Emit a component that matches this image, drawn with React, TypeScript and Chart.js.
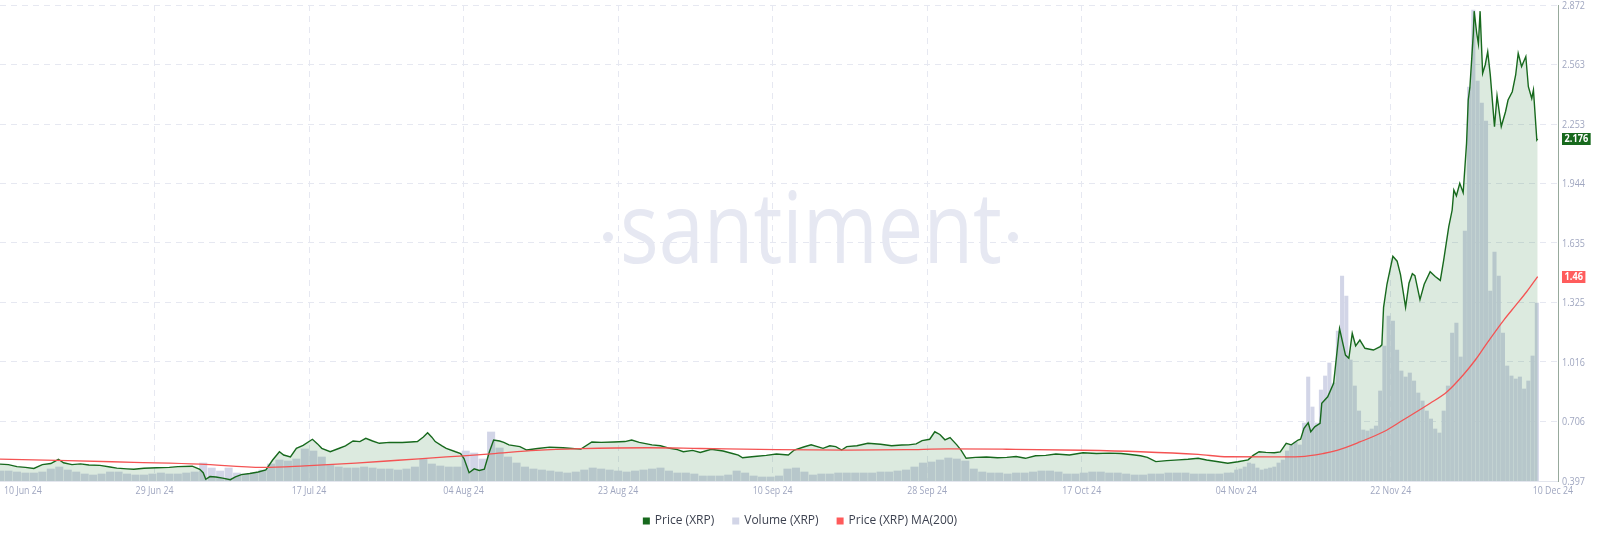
import React, { useEffect, useRef } from 'react';
import { Chart, registerables } from 'chart.js';

Chart.register(...registerables);

// x values are days since 10 Jun 2024 00:00
const xTickDays = [0, 18.25, 36.5, 54.75, 73, 91.25, 109.5, 127.75, 146, 164.25, 182.5];
const xTickLabels = ['10 Jun 24', '29 Jun 24', '17 Jul 24', '04 Aug 24', '23 Aug 24', '10 Sep 24', '28 Sep 24', '17 Oct 24', '04 Nov 24', '22 Nov 24', '10 Dec 24'];
const yTicks = [0.397, 0.706, 1.016, 1.325, 1.635, 1.944, 2.253, 2.563, 2.872];

const priceDays = [
  0, 1, 2, 3, 4, 5, 6, 6.9, 7.5, 8.5, 9.5, 10.5, 11.8, 13, 13.8, 15, 15.8, 17, 18.5, 20, 21, 22.7, 23.6, 24, 24.3, 24.8,
  25.5, 26.3, 27.2, 27.8, 28.5, 29.5, 30.5, 31.4, 32.2, 33, 33.5, 34.3, 35, 35.8, 36.9, 37.5, 38, 39, 40, 40.8, 41.7,
  42.5, 43.2, 44, 44.8, 46, 47.5, 48.5, 49.3, 50, 50.5, 51, 51.4, 52.2, 52.7, 53.8, 54.4, 54.8, 55.4, 56, 56.6, 57.2,
  57.8, 58.3, 59, 59.5, 60.1, 61.4, 62.2, 63.5, 64.9, 66.5, 68.6, 69.9, 71, 72.5, 73.8, 74.6, 75.5, 77, 78, 79.1, 80,
  80.7, 81.8, 82.7, 84, 85.4, 86.5, 87.2, 87.7, 88.5, 89.4, 90.5, 91.7, 93.1, 93.8, 95, 95.8, 97.2, 98, 98.7, 99.4,
  100, 101.2, 102.5, 104, 105.3, 106.5, 107.3, 108.2, 108.9, 109.8, 110.4, 111, 111.6, 112.2, 113, 113.5, 114.1,
  115.2, 116.5, 117.8, 118.9, 120, 121.1, 122.3, 123.5, 124.7, 126.3, 127.9, 129.5, 131, 132.4, 133.5, 134.7, 135.5,
  136.5, 137.8, 139.2, 140.3, 141.5, 142.5, 143.5, 145, 146.2, 147.4, 148, 148.7, 149.5, 150.5, 151.2, 151.9, 152.5,
  153.3, 153.6, 154, 154.5, 154.8, 155.3, 155.9, 156.1, 156.8, 157.5, 158.2, 158.9, 159.3, 159.7, 160.1, 160.6, 161.2,
  162.2, 163, 163.2, 163.4, 163.8, 164.5, 165, 165.4, 166, 166.4, 166.8, 167.1, 167.7, 168.2, 168.9, 169.5, 170.1,
  170.5, 171.1, 171.5, 171.7, 172, 172.4, 172.8, 173.2, 173.4, 173.6, 174, 174.1, 174.4, 174.6, 174.8, 175.1, 175.4,
  175.7, 176, 176.5, 176.8, 177.3, 177.8, 178.1, 178.6, 179, 179.3, 179.7, 180.2, 180.5, 180.9, 181.1, 181.5, 181.6,
];
const priceValues = [
  0.485, 0.482, 0.472, 0.468, 0.462, 0.482, 0.488, 0.51, 0.492, 0.482, 0.486, 0.48, 0.478, 0.47, 0.464, 0.46, 0.458, 0.463, 0.466, 0.468, 0.472, 0.474, 0.458, 0.44, 0.406, 0.42,
  0.418, 0.412, 0.404, 0.418, 0.43, 0.436, 0.444, 0.455, 0.506, 0.549, 0.532, 0.522, 0.567, 0.582, 0.614, 0.59, 0.567, 0.549, 0.566, 0.58, 0.605,
  0.602, 0.619, 0.605, 0.593, 0.598, 0.597, 0.6, 0.602, 0.626, 0.648, 0.625, 0.602, 0.58, 0.567, 0.549, 0.54, 0.514, 0.44, 0.46, 0.452, 0.458,
  0.549, 0.61, 0.605, 0.598, 0.585, 0.576, 0.558, 0.566, 0.573, 0.57, 0.563, 0.6, 0.598, 0.6, 0.602, 0.61, 0.598, 0.585, 0.58, 0.567, 0.56,
  0.549, 0.556, 0.545, 0.562, 0.553, 0.54, 0.532, 0.518, 0.522, 0.526, 0.53, 0.537, 0.532, 0.558, 0.575, 0.585, 0.567, 0.58, 0.576, 0.558,
  0.576, 0.58, 0.593, 0.588, 0.58, 0.584, 0.585, 0.59, 0.607, 0.614, 0.653, 0.639, 0.611, 0.623, 0.585, 0.558, 0.515,
  0.52, 0.522, 0.518, 0.52, 0.524, 0.515, 0.528, 0.53, 0.537, 0.532, 0.544, 0.54, 0.542, 0.54, 0.535, 0.528, 0.52,
  0.498, 0.503, 0.507, 0.51, 0.515, 0.506, 0.5, 0.489, 0.497, 0.507, 0.53, 0.549, 0.546, 0.544, 0.548, 0.593, 0.585,
  0.61, 0.614, 0.671, 0.7, 0.653, 0.68, 0.697, 0.801, 0.835, 0.905, 1.19, 1.052, 1.035, 1.165, 1.1, 1.13, 1.087,
  1.078, 1.096, 1.105, 1.3, 1.42, 1.565, 1.54, 1.47, 1.3, 1.425, 1.475, 1.465, 1.34, 1.42, 1.485, 1.46, 1.44,
  1.546, 1.72, 1.806, 1.91, 1.88, 1.945, 1.896, 2.153, 2.378, 2.447, 2.725, 2.84, 2.725, 2.67, 2.84, 2.517, 2.56,
  2.629, 2.51, 2.239, 2.4, 2.24, 2.317, 2.378, 2.421, 2.508, 2.621, 2.552, 2.604, 2.447, 2.386, 2.43, 2.17, 2.176,
];

const maDays = [0, 8, 15.8, 23.6, 31, 36, 42, 47, 52.7, 58, 63.3, 68.6, 76.5, 82.7, 91.7, 100, 107, 112, 118.9, 127.9, 134.7, 141.5, 145, 150, 153.6, 156.3, 157.9, 160.6, 163.4, 165.7, 168.9, 170.9, 172.8, 174.3, 175.6, 177.6, 179, 180.3, 181.6];
const maValues = [0.511, 0.503, 0.494, 0.485, 0.468, 0.476, 0.49, 0.505, 0.522, 0.538, 0.556, 0.565, 0.57, 0.566, 0.56, 0.558, 0.56, 0.564, 0.562, 0.557, 0.549, 0.535, 0.523, 0.522, 0.524, 0.54, 0.556, 0.6, 0.653, 0.714, 0.801, 0.861, 0.948, 1.03, 1.113, 1.234, 1.31, 1.381, 1.46];

// Volume (XRP), arbitrary units: daily bars 10 Jun .. 3 Nov, then half-day bars
const volumeDailyStart = 0;
const volumeDaily = [
  100, 100, 90, 80, 80, 90, 120, 140, 110, 90, 70, 60, 70, 90, 90, 70, 60, 60, 70, 80,
  70, 70, 80, 90, 180, 130, 100, 130, 80, 70, 80, 110, 170, 210, 200, 220, 320, 300, 240, 160,
  140, 130, 130, 140, 130, 120, 120, 110, 120, 140, 220, 170, 150, 140, 140, 300, 280, 220, 490, 330,
  240, 180, 140, 120, 110, 100, 90, 80, 90, 110, 130, 120, 110, 100, 90, 100, 110, 120, 130, 100,
  80, 80, 70, 50, 50, 50, 60, 100, 80, 50, 40, 40, 50, 120, 130, 90, 60, 70, 70, 80,
  80, 80, 80, 80, 90, 90, 100, 110, 140, 180, 190, 210, 230, 220, 200, 120, 90, 80, 80, 70,
  80, 80, 90, 100, 100, 90, 70, 70, 80, 90, 90, 80, 80, 70, 60, 60, 70, 70, 80, 80,
  80, 70, 70, 70, 70, 80,
];
const volumeHalfDayStart = 145.5;
const volumeHalfDay = [
  80, 110, 120, 140, 180, 170, 130, 110, 120, 130, 140, 180, 210, 300, 360, 390, 360, 580, 1040, 740,
  580, 910, 1050, 1180, 980, 1500, 2050, 1850, 1210, 950, 700, 510, 500, 520, 550, 900, 1350, 1650, 1600, 1310,
  1100, 1040, 1080, 1000, 880, 800, 700, 620, 520, 480, 700, 950, 1480, 1580, 1240, 2500, 3940, 4710, 4000, 3780,
  3600, 1900, 2290, 2050, 1480, 1150, 1050, 1020, 1040, 920, 1000, 1250, 1780,
];

const GREEN = '#17691d';
const LAVENDER = '#d2d5e7';
const RED = '#f45353';
const AXIS_TEXT = '#a0a7c0';

function drawScaledText(ctx: CanvasRenderingContext2D, text: string, x: number, y: number, align: 'left' | 'center' | 'right', sx: number) {
  const w = ctx.measureText(text).width * sx;
  let left = x;
  if (align === 'center') left = x - w / 2;
  if (align === 'right') left = x - w;
  ctx.save();
  ctx.translate(left, y);
  ctx.scale(sx, 1);
  ctx.textAlign = 'left';
  ctx.fillText(text, 0, 0);
  ctx.restore();
}

const overlayPlugin = {
  id: 'overlay',
  beforeDraw(chart: any) {
    const ctx: CanvasRenderingContext2D = chart.ctx;
    ctx.save();
    ctx.fillStyle = '#ffffff';
    ctx.fillRect(0, 0, chart.width, chart.height);
    // watermark
    ctx.fillStyle = '#e6e8f2';
    ctx.font = '500 98px "Open Sans"';
    ctx.textBaseline = 'alphabetic';
    const w = ctx.measureText('santiment').width;
    ctx.translate(620, 263);
    ctx.scale(382 / w, 1);
    ctx.fillText('santiment', 0, 0);
    ctx.restore();
    ctx.save();
    ctx.fillStyle = '#e6e8f2';
    ctx.beginPath();
    ctx.arc(608, 237, 5, 0, Math.PI * 2);
    ctx.arc(1013, 237, 5, 0, Math.PI * 2);
    ctx.fill();
    ctx.restore();
  },
  afterDraw(chart: any) {
    const ctx: CanvasRenderingContext2D = chart.ctx;
    const xs = chart.scales.x;
    const ys = chart.scales.y;
    const area = chart.chartArea;
    ctx.save();
    // x labels
    ctx.fillStyle = AXIS_TEXT;
    ctx.font = '10px "Open Sans"';
    ctx.textBaseline = 'middle';
    xTickDays.forEach((d, i) => {
      const px = xs.getPixelForValue(d);
      if (i === 0) drawScaledText(ctx, xTickLabels[i], 4, 491, 'left', 0.88);
      else if (i === xTickDays.length - 1) drawScaledText(ctx, xTickLabels[i], 1573, 491, 'right', 0.88);
      else drawScaledText(ctx, xTickLabels[i], px, 491, 'center', 0.88);
    });
    // y labels
    yTicks.forEach((v) => {
      const py = ys.getPixelForValue(v);
      drawScaledText(ctx, v.toFixed(3), area.right + 4, py + 1, 'left', 0.9);
    });
    // value tags
    const tags = [
      { v: priceValues[priceValues.length - 1], text: priceValues[priceValues.length - 1].toFixed(3), color: GREEN },
      { v: maValues[maValues.length - 1], text: String(maValues[maValues.length - 1]), color: '#ff5c5c' },
    ];
    tags.forEach((t) => {
      const py = ys.getPixelForValue(t.v);
      ctx.font = 'bold 10px "Open Sans"';
      const tw = ctx.measureText(t.text).width * 0.92;
      ctx.fillStyle = t.color;
      ctx.fillRect(area.right + 4, Math.round(py - 6), tw + 5, 12);
      ctx.fillStyle = '#ffffff';
      drawScaledText(ctx, t.text, area.right + 6.5, py + 0.5, 'left', 0.92);
    });
    // legend
    const items = [
      { label: 'Price (XRP)', color: GREEN },
      { label: 'Volume (XRP)', color: LAVENDER },
      { label: 'Price (XRP) MA(200)', color: '#ff5a5a' },
    ];
    ctx.font = '12px "Open Sans"';
    const box = 7, gap = 5, itemGap = 18;
    const widths = items.map((it) => box + gap + ctx.measureText(it.label).width);
    const total = widths.reduce((a, b) => a + b, 0) + itemGap * (items.length - 1);
    let x = 800 - total / 2;
    const ly = 521;
    items.forEach((it, i) => {
      ctx.fillStyle = it.color;
      ctx.fillRect(x, ly - 3.5, box, box);
      ctx.fillStyle = '#3d4250';
      ctx.textAlign = 'left';
      ctx.textBaseline = 'middle';
      ctx.fillText(it.label, x + box + gap, ly);
      x += widths[i] + itemGap;
    });
    ctx.restore();
  },
};

export default function App() {
  const canvasRef = useRef<HTMLCanvasElement | null>(null);
  useEffect(() => {
    const canvas = canvasRef.current;
    if (!canvas) return;
    const chart = new Chart(canvas, {
      type: 'line',
      data: {
        datasets: [
          {
            type: 'line',
            label: 'Price (XRP) MA(200)',
            data: maDays.map((d, i) => ({ x: d, y: maValues[i] })),
            borderColor: RED,
            borderWidth: 1.3,
            pointRadius: 0,
            fill: false,
            cubicInterpolationMode: 'monotone',
            yAxisID: 'y',
            order: 1,
          },
          {
            type: 'line',
            label: 'Price (XRP)',
            data: priceDays.map((d, i) => ({ x: d, y: priceValues[i] })),
            borderColor: GREEN,
            borderWidth: 1.4,
            pointRadius: 0,
            fill: 'start',
            backgroundColor: 'rgba(60,140,75,0.18)',
            yAxisID: 'y',
            order: 2,
          },
          {
            type: 'bar',
            label: 'Volume (XRP)',
            data: volumeDaily.map((v, i) => ({ x: volumeDailyStart + i, y: v })),
            backgroundColor: LAVENDER,
            barThickness: 7.4,
            grouped: false,
            yAxisID: 'yVol',
            order: 3,
          },
          {
            type: 'bar',
            label: 'Volume (XRP) ',
            data: volumeHalfDay.map((v, i) => ({ x: volumeHalfDayStart + i * 0.5, y: v })),
            backgroundColor: LAVENDER,
            barThickness: 3.4,
            grouped: false,
            yAxisID: 'yVol',
            order: 3,
          },
        ] as any,
      },
      options: {
        responsive: false,
        animation: false,
        events: [],
        layout: { padding: { left: 0, right: 42, top: 5, bottom: 60 } },
        plugins: { legend: { display: false }, tooltip: { enabled: false } },
        scales: {
          x: {
            type: 'linear',
            min: 0,
            max: 184,
            offset: false,
            grid: { offset: false, color: '#e6e8f1', drawTicks: false, lineWidth: 1 },
            border: { display: true, color: '#e3e6ee', dash: [6, 5] },
            ticks: { display: false },
            afterBuildTicks: (s: any) => {
              s.ticks = xTickDays.slice(1, -1).map((v) => ({ value: v }));
            },
            afterFit: (s: any) => {
              s.height = 0;
            },
          },
          y: {
            type: 'linear',
            position: 'right',
            min: 0.397,
            max: 2.872,
            grid: { color: '#e6e8f1', drawTicks: false, lineWidth: 1 },
            border: { display: true, color: '#97a99c', dash: [6, 5] },
            ticks: { display: false },
            afterBuildTicks: (s: any) => {
              s.ticks = yTicks.map((v) => ({ value: v }));
            },
            afterFit: (s: any) => {
              s.width = 0;
            },
          },
          yVol: { type: 'linear', display: false, min: 0, max: 4760 },
        },
      } as any,
      plugins: [overlayPlugin],
    });
    return () => chart.destroy();
  }, []);
  return (
    <div style={{ position: 'absolute', left: 0, top: 0, width: 1600, height: 541, background: '#fff' }}>
      <canvas ref={canvasRef} width={1600} height={541} style={{ display: 'block' }} />
    </div>
  );
}
